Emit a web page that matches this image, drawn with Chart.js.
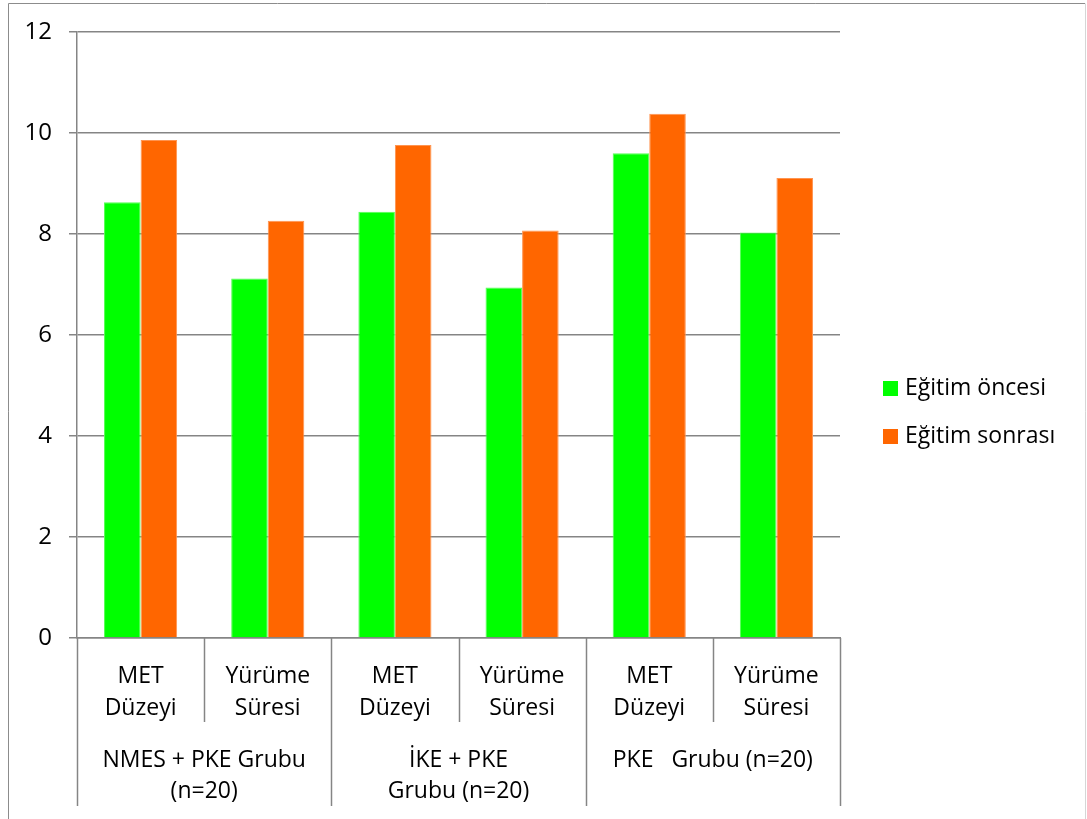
<!DOCTYPE html>
<html>
<head>
<meta charset="utf-8">
<script src="https://cdn.jsdelivr.net/npm/chart.js@4.4.1/dist/chart.umd.min.js"></script>
<style>
  html, body { margin: 0; padding: 0; background: #ffffff; }
  canvas { display: block; }
</style>
</head>
<body>
<canvas id="chart" width="1087" height="819"></canvas>
<script>
// Categories (inner axis row) and their groups (outer axis row)
const categories = ['MET Düzeyi', 'Yürüme Süresi', 'MET Düzeyi', 'Yürüme Süresi', 'MET Düzeyi', 'Yürüme Süresi'];
const categoryLines = [
  ['MET', 'Düzeyi'], ['Yürüme', 'Süresi'],
  ['MET', 'Düzeyi'], ['Yürüme', 'Süresi'],
  ['MET', 'Düzeyi'], ['Yürüme', 'Süresi']
];
const groupLabels = [
  ['NMES + PKE Grubu', '(n=20)'],
  ['İKE + PKE', 'Grubu (n=20)'],
  ['PKE   Grubu (n=20)']
];
const groupSize = 2;

// Series
const seriesNames = ['Eğitim öncesi', 'Eğitim sonrası'];
const beforeValues = [8.63, 7.12, 8.44, 6.94, 9.60, 8.03];
const afterValues  = [9.86, 8.26, 9.76, 8.07, 10.38, 9.11];

// Value axis
const yTicks = [0, 2, 4, 6, 8, 10, 12];

const GREEN = '#00ff00';
const ORANGE = '#ff6600';
const LINE = '#858585';
const FONT = '"Open Sans", "DejaVu Sans", sans-serif';

// Two-row category axis: dividers plus inner and group labels
const multiLevelAxis = {
  id: 'multiLevelAxis',
  afterDraw(chart) {
    const ctx = chart.ctx;
    const x = chart.scales.x;
    const area = chart.chartArea;
    const n = chart.data.labels.length;
    const edge = i => i === 0 ? area.left : i === n ? area.right
      : (x.getPixelForValue(i - 1) + x.getPixelForValue(i)) / 2;

    ctx.save();
    ctx.strokeStyle = LINE;
    ctx.lineWidth = 1.5;
    for (let i = 0; i <= n; i++) {
      const px = Math.round(edge(i)) + 0.5;
      const len = (i % groupSize === 0) ? 168 : 84;
      ctx.beginPath();
      ctx.moveTo(px, area.bottom);
      ctx.lineTo(px, area.bottom + len);
      ctx.stroke();
    }

    ctx.fillStyle = '#000000';
    ctx.font = '23px ' + FONT;
    ctx.textAlign = 'center';
    ctx.textBaseline = 'alphabetic';
    categoryLines.forEach((lines, i) => {
      const cx = x.getPixelForValue(i);
      lines.forEach((t, k) => ctx.fillText(t, cx, area.bottom + 45 + k * 32));
    });
    groupLabels.forEach((lines, g) => {
      const cx = (edge(g * groupSize) + edge(g * groupSize + groupSize)) / 2;
      lines.forEach((t, k) => ctx.fillText(t, cx, area.bottom + 129 + k * 31));
    });
    ctx.restore();
  }
};

// Legend on the right, plus the outer frame of the chart
const sideLegend = {
  id: 'sideLegend',
  beforeDraw(chart) {
    const ctx = chart.ctx;
    ctx.save();
    ctx.fillStyle = '#ffffff';
    ctx.fillRect(0, 0, chart.width, chart.height);
    ctx.lineWidth = 1;
    ctx.strokeStyle = '#8c8c8c';
    ctx.beginPath();
    ctx.moveTo(8.5, chart.height);
    ctx.lineTo(8.5, 3.5);
    ctx.lineTo(1085, 3.5);
    ctx.stroke();
    ctx.strokeStyle = '#d6d6d6';
    ctx.beginPath();
    ctx.moveTo(1085.5, 3.5);
    ctx.lineTo(1085.5, chart.height);
    ctx.stroke();
    ctx.restore();
  },
  afterDraw(chart) {
    const ctx = chart.ctx;
    ctx.save();
    ctx.font = '23px ' + FONT;
    ctx.textAlign = 'left';
    ctx.textBaseline = 'alphabetic';
    chart.data.datasets.forEach((ds, i) => {
      const base = 395 + i * 48;
      ctx.fillStyle = ds.backgroundColor;
      ctx.fillRect(883, base - 14, 15, 15);
      ctx.fillStyle = '#000000';
      ctx.fillText(ds.label, 905, base);
    });
    ctx.restore();
  }
};

new Chart(document.getElementById('chart'), {
  type: 'bar',
  data: {
    labels: categories,
    datasets: [
      { label: seriesNames[0], data: beforeValues, backgroundColor: GREEN,
        borderColor: '#55ff55', borderWidth: { top: 1, left: 1, right: 1, bottom: 0 } },
      { label: seriesNames[1], data: afterValues, backgroundColor: ORANGE,
        borderColor: '#ff9450', borderWidth: { top: 1, left: 1, right: 1, bottom: 0 } }
    ]
  },
  options: {
    responsive: false,
    animation: false,
    devicePixelRatio: 1,
    layout: { padding: { left: 0, right: 247, top: 32, bottom: 0 } },
    datasets: { bar: { categoryPercentage: 0.575, barPercentage: 1.0 } },
    plugins: { legend: { display: false }, tooltip: { enabled: false } },
    scales: {
      x: {
        offset: true,
        grid: { display: false },
        border: { display: true, color: LINE, width: 1.5 },
        ticks: { display: false },
        afterFit(scale) { scale.height = 181; }
      },
      y: {
        min: 0,
        max: 12,
        afterBuildTicks(scale) { scale.ticks = yTicks.map(v => ({ value: v })); },
        grid: { color: LINE, lineWidth: 1.5, tickLength: 8, drawTicks: true },
        border: { display: true, color: LINE, width: 1.5 },
        ticks: { color: '#000000', padding: 17, font: { family: FONT, size: 24 } },
        afterFit(scale) { scale.width = 77; }
      }
    }
  },
  plugins: [sideLegend, multiLevelAxis]
});
</script>
</body>
</html>
